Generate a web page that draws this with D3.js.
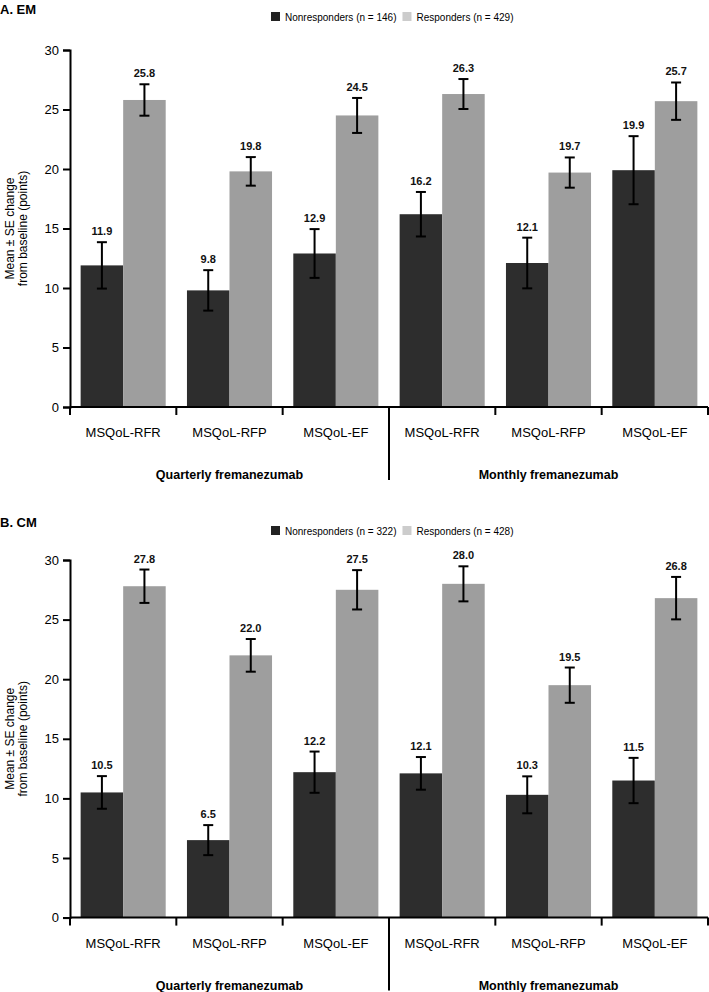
<!DOCTYPE html>
<html>
<head>
<meta charset="utf-8">
<script src="https://cdn.jsdelivr.net/npm/d3@7/dist/d3.min.js"></script>
<style>
  html, body { margin: 0; padding: 0; background: #fff; }
  svg { display: block; font-family: "Liberation Sans", Arial, Helvetica, sans-serif; }
</style>
</head>
<body>
<svg id="chart" width="709" height="992"></svg>
<script>
// ---------- data ----------
const measures = ["MSQoL-RFR", "MSQoL-RFP", "MSQoL-EF"];
const groups = ["Quarterly fremanezumab", "Monthly fremanezumab"];
const seriesNames = ["Nonresponders", "Responders"];
const yTicks = [0, 5, 10, 15, 20, 25, 30];

const panelTitles = ["A. EM", "B. CM"];
const nNonresponders = [146, 322];
const nResponders = [429, 428];

// Panel A (EM): order = Quarterly RFR, RFP, EF, Monthly RFR, RFP, EF
const emNonMean = [11.9, 9.8, 12.9, 16.2, 12.1, 19.9];
const emNonSE   = [1.95, 1.7, 2.05, 1.87, 2.13, 2.86];
const emResMean = [25.8, 19.8, 24.5, 26.3, 19.7, 25.7];
const emResSE   = [1.32, 1.2, 1.47, 1.26, 1.27, 1.57];

// Panel B (CM)
const cmNonMean = [10.5, 6.5, 12.2, 12.1, 10.3, 11.5];
const cmNonSE   = [1.37, 1.26, 1.73, 1.37, 1.55, 1.9];
const cmResMean = [27.8, 22.0, 27.5, 28.0, 19.5, 26.8];
const cmResSE   = [1.4, 1.37, 1.65, 1.47, 1.48, 1.78];

const colors = { Nonresponders: "#2d2d2d", Responders: "#9e9e9e" };
const legendColors = { Nonresponders: "#222222", Responders: "#cccccc" };

// ---------- drawing ----------
const svg = d3.select("#chart");
const categories = [];
groups.forEach((g, gi) => measures.forEach((m, mi) => categories.push({ key: gi + "-" + mi, measure: m, group: g })));

function drawPanel(cfg) {
  const g = svg.append("g");
  const top = cfg.top, zeroY = cfg.zeroY;
  const y = d3.scaleLinear().domain([0, 30]).range([zeroY, top]);
  const x = d3.scaleBand().domain(categories.map(d => d.key)).range([70, 708]).paddingInner(0).paddingOuter(0);
  const xi = d3.scaleBand().domain(seriesNames).range([0, x.bandwidth()]).paddingInner(0).paddingOuter(0.25);

  // title
  g.append("text").attr("x", 0).attr("y", cfg.titleY).attr("font-size", 13).attr("font-weight", "bold")
    .attr("fill", "#000").text(cfg.title);

  // legend
  const lg = g.append("g").attr("transform", `translate(271,${cfg.legendY})`);
  const legendLabels = [
    `Nonresponders (n = ${cfg.nNon})`,
    `Responders (n = ${cfg.nRes})`
  ];
  let lx = 0;
  seriesNames.forEach((s, i) => {
    lg.append("rect").attr("x", lx).attr("y", -5).attr("width", 9).attr("height", 9).attr("fill", legendColors[s]);
    const t = lg.append("text").attr("x", lx + 14).attr("y", 3.5).attr("font-size", 10).attr("fill", "#000")
      .text(legendLabels[i]);
    lx += 14 + t.node().getComputedTextLength() + 6;
  });

  // data rows
  const rows = categories.map((c, i) => ({
    cat: c,
    bars: [
      { s: "Nonresponders", v: cfg.nonMean[i], se: cfg.nonSE[i] },
      { s: "Responders", v: cfg.resMean[i], se: cfg.resSE[i] }
    ]
  }));

  const cg = g.selectAll(".cat").data(rows).enter().append("g")
    .attr("transform", d => `translate(${x(d.cat.key)},0)`);

  const bg = cg.selectAll(".bar").data(d => d.bars).enter().append("g");
  bg.append("rect")
    .attr("x", d => xi(d.s)).attr("width", xi.bandwidth())
    .attr("y", d => y(d.v)).attr("height", d => y(0) - y(d.v))
    .attr("fill", d => colors[d.s]);

  const cx = d => xi(d.s) + xi.bandwidth() / 2;
  bg.append("line").attr("x1", cx).attr("x2", cx)
    .attr("y1", d => y(d.v + d.se)).attr("y2", d => y(d.v - d.se))
    .attr("stroke", "#000").attr("stroke-width", 2);
  [1, -1].forEach(sign => {
    bg.append("line").attr("x1", d => cx(d) - 5).attr("x2", d => cx(d) + 5)
      .attr("y1", d => y(d.v + sign * d.se)).attr("y2", d => y(d.v + sign * d.se))
      .attr("stroke", "#000").attr("stroke-width", 2);
  });
  bg.append("text").attr("x", cx).attr("y", d => y(d.v + d.se) - 7)
    .attr("text-anchor", "middle").attr("font-size", 11).attr("font-weight", "bold").attr("fill", "#111")
    .text(d => d.v.toFixed(1));

  // y axis
  const ya = g.append("g").attr("transform", "translate(70,0)")
    .call(d3.axisLeft(y).tickValues(yTicks).tickSize(7).tickSizeOuter(7).tickPadding(4));
  ya.select(".domain").attr("stroke", "#000").attr("stroke-width", 2);
  ya.selectAll(".tick line").attr("stroke", "#000").attr("stroke-width", 2);
  ya.selectAll(".tick text").attr("font-size", 13).attr("fill", "#000")
    .attr("font-family", "'Liberation Sans', Arial, sans-serif");

  // y axis title
  const midY = (y(0) + y(30)) / 2;
  const yt = g.append("text").attr("transform", `translate(0,${midY}) rotate(-90)`)
    .attr("text-anchor", "middle").attr("font-size", 12).attr("fill", "#000");
  yt.append("tspan").attr("x", 0).attr("y", 14).text("Mean ± SE change");
  yt.append("tspan").attr("x", 0).attr("y", 27).text("from baseline (points)");

  // x axis baseline and boundary ticks
  g.append("line").attr("x1", 70).attr("x2", 708).attr("y1", zeroY).attr("y2", zeroY)
    .attr("stroke", "#000").attr("stroke-width", 2);
  const bounds = categories.map(c => x(c.key)).concat([x.range()[1]]);
  g.selectAll(".bt").data(bounds).enter().append("line")
    .attr("x1", d => d).attr("x2", d => d)
    .attr("y1", zeroY).attr("y2", (d, i) => i === measures.length ? zeroY + 73 : zeroY + 8)
    .attr("stroke", "#000").attr("stroke-width", 2);

  // category labels
  g.selectAll(".cl").data(categories).enter().append("text")
    .attr("x", d => x(d.key) + x.bandwidth() / 2).attr("y", zeroY + 30)
    .attr("text-anchor", "middle").attr("font-size", 13).attr("fill", "#000")
    .text(d => d.measure);

  // group labels
  groups.forEach((gr, gi) => {
    const first = x(gi + "-0"), last = x(gi + "-" + (measures.length - 1)) + x.bandwidth();
    g.append("text").attr("x", (first + last) / 2).attr("y", zeroY + 72)
      .attr("text-anchor", "middle").attr("font-size", 12.5).attr("font-weight", "bold").attr("fill", "#000")
      .text(gr);
  });
}

drawPanel({ title: panelTitles[0], titleY: 14, legendY: 17, top: 50, zeroY: 407,
  nNon: nNonresponders[0], nRes: nResponders[0],
  nonMean: emNonMean, nonSE: emNonSE, resMean: emResMean, resSE: emResSE });
drawPanel({ title: panelTitles[1], titleY: 527, legendY: 531, top: 560, zeroY: 917.6,
  nNon: nNonresponders[1], nRes: nResponders[1],
  nonMean: cmNonMean, nonSE: cmNonSE, resMean: cmResMean, resSE: cmResSE });
</script>
</body>
</html>
